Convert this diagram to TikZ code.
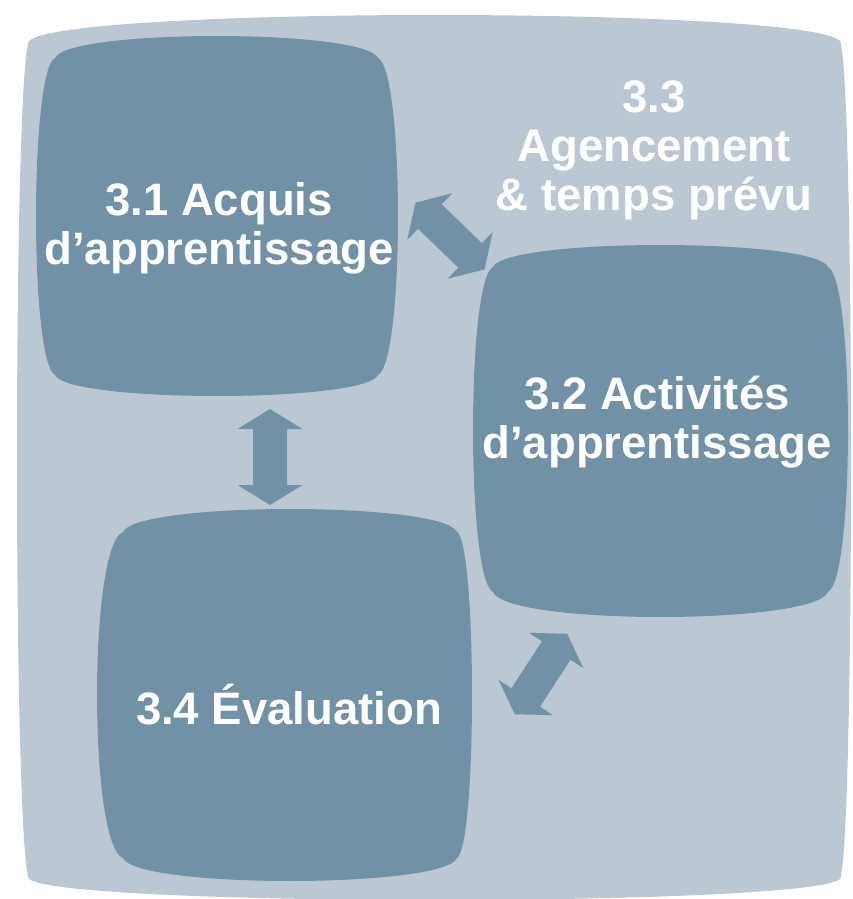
\documentclass[tikz,border=0pt]{standalone}
\usepackage{fontspec}
\setmainfont{Liberation Sans}
\definecolor{bglight}{HTML}{BBC8D3}
\definecolor{boxdark}{HTML}{7191A6}
% #1 fill, #2 x1, #3 y1, #4 x2, #5 y2, #6 top, #7 right, #8 bottom, #9 left bulge
\newcommand\blobshape[9]{%
  \pgfmathsetmacro\bxa{#2+0.04*(#4-#2)}%
  \pgfmathsetmacro\bxb{#4-0.04*(#4-#2)}%
  \pgfmathsetmacro\bya{#3+0.04*(#5-#3)}%
  \pgfmathsetmacro\byb{#5-0.04*(#5-#3)}%
  \pgfmathsetmacro\dt{1.333*#6}%
  \pgfmathsetmacro\dr{1.333*#7}%
  \pgfmathsetmacro\db{1.333*#8}%
  \pgfmathsetmacro\dl{1.333*#9}%
  \fill[#1] (#2,#3) .. controls (\bxa,#3-\dt) and (\bxb,#3-\dt) .. (#4,#3)
    .. controls (#4+\dr,\bya) and (#4+\dr,\byb) .. (#4,#5)
    .. controls (\bxb,#5+\db) and (\bxa,#5+\db) .. (#2,#5)
    .. controls (#2-\dl,\byb) and (#2-\dl,\bya) .. cycle;}
\tikzset{
  boxtext/.style={text=white, font=\fontsize{45.5}{49}\selectfont\bfseries, align=center, inner sep=0pt},
  blockarrow/.style={fill=boxdark}
}
\newcommand\dblarrow[3]{% center x, center y, angle
  \begin{scope}[shift={(#1,#2)}, rotate=#3]
    \fill[blockarrow] (-48,0) -- (-28,-32.5) -- (-28,-17) -- (28,-17) -- (28,-32.5)
      -- (48,0) -- (28,32.5) -- (28,17) -- (-28,17) -- (-28,32.5) -- cycle;
  \end{scope}}
\begin{document}
\begin{tikzpicture}[x=1pt,y=-1pt]
\useasboundingbox (0,0) rectangle (853,899);
% background
\blobshape{bglight}{29}{41}{840}{879}{26}{11}{21}{12}
% boxes
\blobshape{boxdark}{55}{58}{378}{375}{22}{20}{21}{19}
\blobshape{boxdark}{493}{267}{828}{592}{22}{20}{25}{20}
\blobshape{boxdark}{123}{532}{457}{858}{23}{15}{23}{26}
% arrows
\dblarrow{450}{236}{-44}
\dblarrow{270}{457}{90}
\dblarrow{541}{674}{57}
% texts
\node[boxtext] (acq) at (219,228) {3.1 Acquis\\d’apprentissage};
\node[boxtext] (agc) at (654,150) {3.3\\Agencement\\\&\ temps prévu};
\node[boxtext] (act) at (657,422) {3.2 Activités\\d’apprentissage};
\node[boxtext] (eva) at (289,705) {3.4 Évaluation};
\end{tikzpicture}
\end{document}
